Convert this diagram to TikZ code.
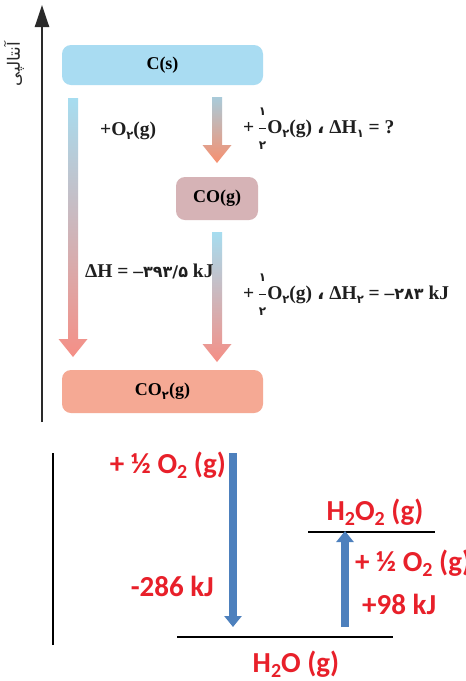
\documentclass[tikz,border=0pt]{standalone}
\usepackage{fontspec}
\setmainfont{Liberation Serif}
\newfontfamily\fa[Script=Arabic]{DejaVu Sans}
\newfontfamily\carfont{Carlito}
\TeXXeTstate=1
\usetikzlibrary{arrows.meta,calc}
\definecolor{boxblue}{HTML}{A9DCF2}
\definecolor{boxpink}{HTML}{D6B3B6}
\definecolor{boxsalmon}{HTML}{F5A994}
\definecolor{arrtop}{HTML}{A6DDF0}
\definecolor{arrbot}{HTML}{F58F86}
\definecolor{arrtop2}{HTML}{A9CBDA}
\definecolor{arrbot2}{HTML}{F7906F}
\definecolor{redtxt}{HTML}{E8202A}
\definecolor{arrblue}{HTML}{4D80BD}
\definecolor{axisgray}{HTML}{2A2A2A}
\newcommand\psub[1]{\raisebox{-0.5ex}{\fa\bfseries\fontsize{11.5}{12}\selectfont #1}}
\newcommand\pdig[1]{{\fa\bfseries\fontsize{16}{18}\selectfont #1}}
\newcommand\pfrac[2]{$\frac{\hbox{\fa\bfseries\fontsize{12}{12}\selectfont #1}\rule[-12pt]{0pt}{12pt}}{\rule{0pt}{21pt}\hbox{\fa\bfseries\fontsize{12}{12}\selectfont #2}}$}
\newcommand\rsub[1]{\raisebox{-0.35ex}{\fontsize{20}{20}\selectfont #1}}
\newcommand\gradarrow[4]{%
  \shade[top color=#3, bottom color=#4]
    let \p1=(#1), \p2=(#2) in
    (\x1-5pt,\y1) -- (\x1+5pt,\y1) -- (\x1+5pt,\y2+18pt) -- (\x1+14.5pt,\y2+18pt)
    -- (\x2,\y2) -- (\x1-14.5pt,\y2+18pt) -- (\x1-5pt,\y2+18pt) -- cycle;}
\tikzset{
  lvlbox/.style={rounded corners=9pt, inner sep=0pt, font=\fontsize{18}{21}\selectfont\bfseries},
  toptxt/.style={inner sep=0pt, anchor=base west, font=\fontsize{19.5}{22}\selectfont\bfseries, text=black!88},
  redlab/.style={inner sep=0pt, text=redtxt, font=\carfont\fontsize{29}{33}\selectfont\bfseries},
  bluearrow/.style={draw=arrblue, line width=7.5pt, -{Triangle[length=11pt,width=17pt]}},
  level/.style={line width=1.6pt, black}
}
\begin{document}
\begin{tikzpicture}[x=1pt,y=-1pt]
\useasboundingbox[fill=white] (0,0) rectangle (466,681);

% ---- top diagram ----
\coordinate (axB) at (42,422);
\coordinate (axT) at (42,5);
\draw[axisgray, line width=2.4pt, -{Triangle[length=22pt,width=14pt]}] (axB) -- (axT);
\node[rotate=90, inner sep=0pt, text=axisgray] (enth) at (14,64)
  {\fa\fontsize{17}{19}\selectfont\beginR آنتالپی\endR};

\node[lvlbox, fill=boxblue, minimum width=201pt, minimum height=40pt] (C) at (162.5,65) {C(s)};
\node[lvlbox, fill=boxpink, minimum width=82pt, minimum height=43pt] (CO) at (217,198.5) {CO(g)};
\node[lvlbox, fill=boxsalmon, minimum width=201pt, minimum height=43pt] (CO2) at (162.5,391.5) {CO\psub{۲}(g)};

\coordinate (a1s) at (73,98);   \coordinate (a1e) at (73,357);
\coordinate (a2s) at (217,97);  \coordinate (a2e) at (217,163);
\coordinate (a3s) at (217,232); \coordinate (a3e) at (217,362);
\gradarrow{a1s}{a1e}{arrtop}{arrbot}
\gradarrow{a2s}{a2e}{arrtop2}{arrbot2}
\gradarrow{a3s}{a3e}{arrtop}{arrbot}

\node[toptxt] (t1) at (100,135) {+O\psub{۲}(g)};
\node[toptxt] (t2) at (243,133) {+\,\pfrac{۱}{۲}O\psub{۲}(g) {\fa ،} ΔH\psub{۱} = ?};
\node[toptxt] (t3) at (85,277) {ΔH = –\pdig{۳۹۳/۵} kJ};
\node[toptxt] (t4) at (243,299) {+\,\pfrac{۱}{۲}O\psub{۲}(g) {\fa ،} ΔH\psub{۲} = –\pdig{۲۸۳} kJ};

% ---- bottom diagram ----
\coordinate (vB) at (53,645);
\coordinate (vT) at (53,453);
\draw[black, line width=2.4pt] (vB) -- (vT);

\coordinate (h2oL) at (177,637); \coordinate (h2oR) at (393,637);
\coordinate (h2o2L) at (308,532); \coordinate (h2o2R) at (435,532);
\draw[level] (h2oL) -- (h2oR);
\draw[level] (h2o2L) -- (h2o2R);

\coordinate (dA) at (233,453); \coordinate (dB) at (233,627);
\coordinate (uA) at (345,627); \coordinate (uB) at (345,531);
\draw[bluearrow] (dA) -- (dB);
\draw[bluearrow] (uA) -- (uB);

\node[redlab, anchor=east] (o2a) at (226,465) {+ ½ O\rsub{2} (g)};
\node[redlab, anchor=east] (dh1) at (214,586) {-286 kJ};
\node[redlab] (h2o) at (296,664) {H\rsub{2}O (g)};
\node[redlab] (h2o2) at (375,512) {H\rsub{2}O\rsub{2} (g)};
\node[redlab, anchor=west] (o2b) at (355,563) {+ ½ O\rsub{2} (g)};
\node[redlab, anchor=west] (dh2) at (362,604) {+98 kJ};
\end{tikzpicture}
\end{document}
